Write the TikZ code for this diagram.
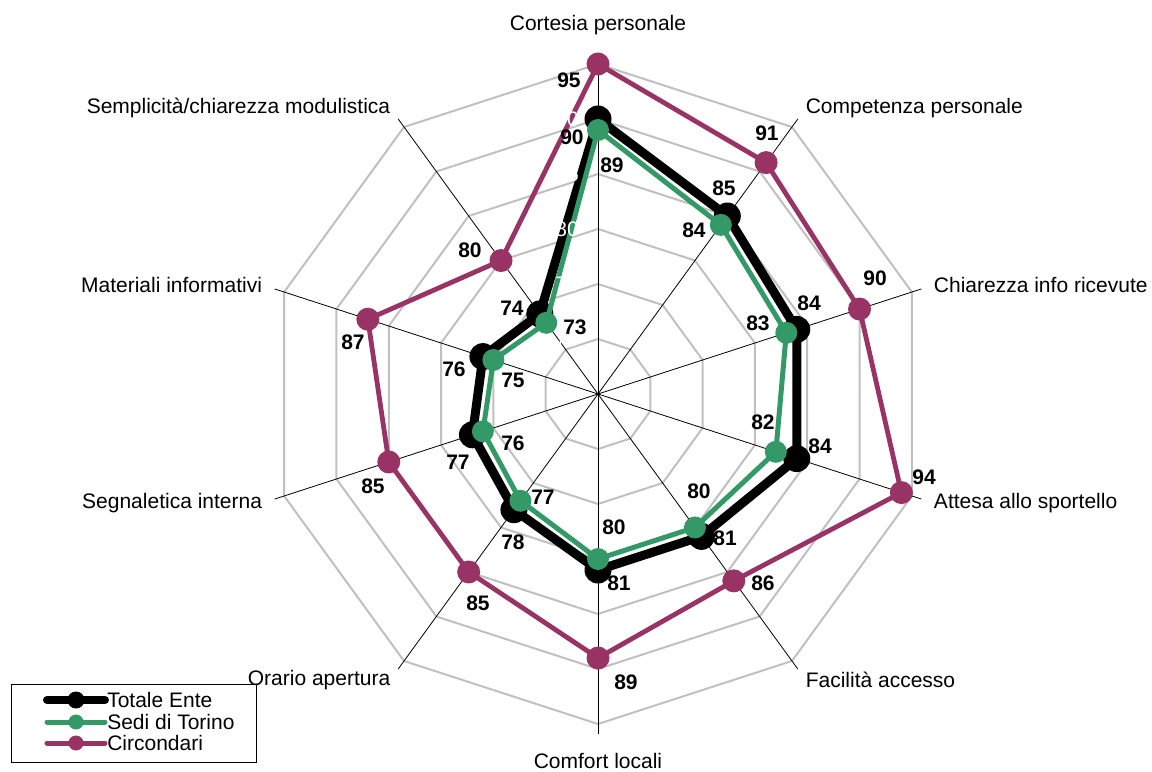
\documentclass[tikz,border=0pt]{standalone}
\usepackage{fontspec}
\setmainfont{Liberation Sans}
\usetikzlibrary{positioning}
\definecolor{totale}{RGB}{0,0,0}
\definecolor{sedi}{RGB}{51,153,102}
\definecolor{circ}{RGB}{153,51,102}
\definecolor{griglia}{RGB}{192,192,192}

\begin{document}
\begin{tikzpicture}[x=0.75pt,y=0.75pt,
    lab/.style={font=\fontsize{15.75}{18}\selectfont,inner sep=0pt},
    val/.style={font=\fontsize{15.75}{18}\selectfont\bfseries,inner sep=0pt},
    tick/.style={font=\fontsize{15.75}{18}\selectfont,text=white,inner sep=0pt,anchor=east},
    serie/.style={line width=#1,line join=round}]
    \useasboundingbox (-598,-377) rectangle (554,394);
    \coordinate (o) at (0,0);

    % Grid: rings 70..95, 11 px per point above 65
    \foreach \k in {1,...,6}
      \draw[griglia,line width=1.5pt] (90:{55*\k}) \foreach \i in {1,...,9}{ -- ({90-36*\i}:{55*\k})} -- cycle;

    % Axes
    \foreach \i in {1,...,10}{
      \coordinate (a\i) at ({126-36*\i}:340);
      \draw[line width=0.6pt] (o) -- (a\i);
    }

    % Data: totale / sedi / circondari
    \foreach \i/\t/\s/\c in {1/90/89/95, 2/85/84/91, 3/84/83/90, 4/84/82/94, 5/81/80/86,
                             6/81/80/89, 7/78/77/85, 8/77/76/85, 9/76/75/87, 10/74/73/80}{
      \coordinate (t\i) at ({126-36*\i}:{(\t-65)*11});
      \coordinate (s\i) at ({126-36*\i}:{(\s-65)*11});
      \coordinate (c\i) at ({126-36*\i}:{(\c-65)*11});
    }
    \draw[totale,serie=6.75pt] (t1) \foreach \i in {2,...,10}{ -- (t\i)} -- cycle;
    \foreach \i in {1,...,10} \fill[totale] (t\i) circle (13.5);
    \draw[sedi,serie=3.75pt] (s1) \foreach \i in {2,...,10}{ -- (s\i)} -- cycle;
    \foreach \i in {1,...,10} \fill[sedi] (s\i) circle (11);
    \draw[circ,serie=3.6pt] (c1) \foreach \i in {2,...,10}{ -- (c\i)} -- cycle;
    \foreach \i in {1,...,10} \fill[circ] (c\i) circle (11.5);

    % Axis values (white)
    \foreach \v [count=\k] in {70,75,80,85,90,95}
      \node[tick] (tk\k) at (-19,{55*\k}) {\v};

    % Value labels
    \foreach \v/\x/\y [count=\n] in {95/-29/314, 90/-26/257, 89/14/229,
        91/169/261, 85/126/206, 84/96/164,
        90/277/116, 84/211/91, 83/160/71,
        94/326/-83, 84/222/-52, 82/165/-28,
        86/165/-189, 81/127/-144, 80/101/-97,
        89/28/-288, 81/21/-189, 80/16/-133,
        85/-120/-209, 78/-85/-148, 77/-55/-103,
        85/-225/-92, 77/-140/-68, 76/-85/-49,
        87/-245/52, 76/-144/25, 75/-85/14,
        80/-128/144, 74/-86/86, 73/-23/67}
      \node[val] (v\n) at (\x,\y) {\v};

    % Category labels
    \foreach \i/\nome/\anc/\rr in {1/Cortesia personale/center/369, 2/Competenza personale/west/353,
        3/Chiarezza info ricevute/west/353, 4/Attesa allo sportello/west/353,
        5/Facilità accesso/west/353, 6/Comfort locali/center/367,
        7/Orario apertura/east/353, 8/Segnaletica interna/east/353,
        9/Materiali informativi/east/353, 10/{Semplicità/chiarezza modulistica}/east/353}
      \node[lab,anchor=\anc] (n\i) at ({126-36*\i}:\rr) {\nome};

    % Legend
    \draw[line width=0.75pt] (-586,-290) rectangle (-341,-368);
    \foreach \nome/\col/\lw/\rd/\y [count=\n] in {Totale Ente/totale/6/8.5/-306,
        Sedi di Torino/sedi/3.75/7.5/-328, Circondari/circ/3.75/7.5/-349}{
      \draw[\col,line width=\lw pt,line cap=round] (-551,\y) -- (-493,\y);
      \fill[\col] (-522,\y) circle (\rd);
      \node[lab,anchor=west] (leg\n) at (-491,\y) {\nome};
    }
  \end{tikzpicture}
\end{document}
